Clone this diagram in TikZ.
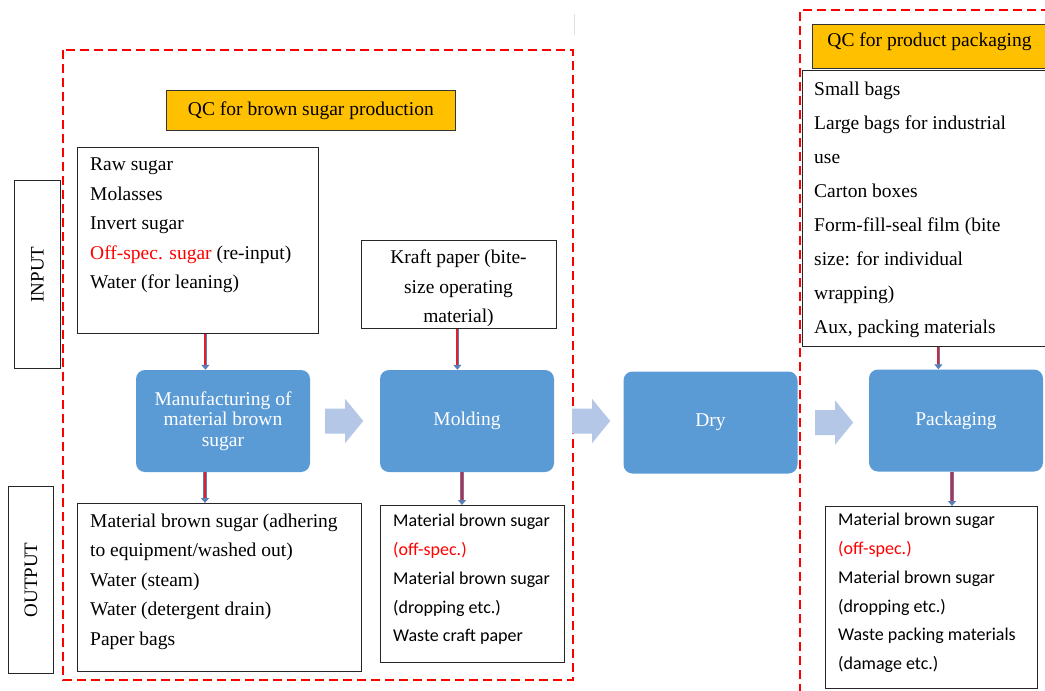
\documentclass[tikz,border=0pt]{standalone}
\usepackage{fontspec}
\setmainfont{Liberation Serif}
\newfontfamily\calibri{Carlito}
\usetikzlibrary{arrows.meta,calc}
\definecolor{procblue}{HTML}{5B9BD5}
\definecolor{qcorange}{HTML}{FFC000}
\definecolor{arrfill}{HTML}{B4C7E7}
\definecolor{arrblue}{HTML}{5A7FB8}
\definecolor{arrred}{HTML}{E0202A}
\begin{document}
\begin{tikzpicture}[x=1pt,y=-1pt,
  qcdash/.style={draw=red, line width=2pt, dash pattern=on 9pt off 5pt},
  plainbox/.style={draw=black!85, line width=0.8pt, anchor=north west, inner sep=0pt},
  qcbox/.style={draw=black!80, line width=0.8pt, fill=qcorange, anchor=north west, inner sep=0pt, font=\fontsize{19.5}{22}\selectfont},
  proc/.style={fill=procblue, rounded corners=9pt, text=white, align=center, minimum width=174pt, minimum height=102pt, inner sep=0pt, font=\fontsize{19.5}{20.5}\selectfont},
  txt/.style={anchor=north west, inner sep=0pt, align=left},
  tnr/.style={font=\fontsize{19.5}{29.5}\selectfont},
  cal/.style={font=\calibri\fontsize{18}{28.8}\selectfont},
  blockarrow/.style={fill=arrfill, draw=none},
  smallarrowout/.style={draw=arrblue, line width=3.6pt, -{Triangle[width=8pt,length=5pt]}},
  smallarrowin/.style={draw=arrred, line width=2pt, shorten >=5pt},
  sidelabel/.style={font=\fontsize{19}{20}\selectfont, rotate=90, inner sep=0pt}
]
\useasboundingbox (0,0) rectangle (1045,691);
\fill[white] (0,0) rectangle (1045,691);

% faint line at top
\draw[black!12, line width=1pt] (574,14) -- (574,35);

% dashed QC areas
\draw[qcdash] (63,50) rectangle (573,680);
\draw[qcdash] (1050,10) -- (800,10) -- (800,700);

% QC titles
\node[qcbox, minimum width=289pt, minimum height=40pt] (qc1) at (166,90) {QC for brown sugar production};
\node[qcbox, minimum width=238pt, minimum height=44pt, anchor=north west] (qc2) at (812,24) {};
\node[font=\fontsize{19.5}{22}\selectfont, inner sep=0pt] (qc2t) at (929.5,42) {QC for product packaging};

% side labels
\node[plainbox, minimum width=46pt, minimum height=188pt] (inlab) at (14,180) {};
\node[sidelabel] (inlabt) at (inlab.center) {INPUT};
\node[plainbox, minimum width=45pt, minimum height=187pt] (outlab) at (8,486) {};
\node[sidelabel] (outlabt) at (outlab.center) {OUTPUT};

% input boxes
\node[plainbox, minimum width=241pt, minimum height=186pt] (inbox) at (77,147) {};
\node[txt, tnr] (intext) at (90,158) {Raw sugar\\Molasses\\Invert sugar\\\textcolor{red}{Off-spec. sugar} (re-input)\\Water (for leaning)};

\node[plainbox, minimum width=195pt, minimum height=88pt] (kraft) at (361,240) {};
\node[tnr, anchor=north, inner sep=0pt, align=center] (krafttext) at (458.5,250) {Kraft paper (bite-\\size operating\\material)};

\node[plainbox, minimum width=248pt, minimum height=276pt] (pkgin) at (802,70) {};
\node[txt, font=\fontsize{19.5}{34.1}\selectfont] (pkgintext) at (814,81.5) {Small bags\\Large bags for industrial\\use\\Carton boxes\\Form-fill-seal film (bite\\size: for individual\\wrapping)\\Aux, packing materials};

% process boxes
\node[proc] (man) at (223,421) {Manufacturing of\\material brown\\sugar};
\node[proc] (mold) at (467,421) {Molding};
\node[proc] (dry) at (710.5,422.5) {Dry};
\node[proc] (pack) at (956,420.5) {Packaging};

% output boxes
\node[plainbox, minimum width=284pt, minimum height=168pt] (out1) at (77,503) {};
\node[txt, tnr] (out1text) at (90,513.5) {Material brown sugar (adhering\\to equipment/washed out)\\Water (steam)\\Water (detergent drain)\\Paper bags};

\node[plainbox, minimum width=184pt, minimum height=157pt] (out2) at (380,505) {};
\node[txt, cal] (out2text) at (393,514) {Material brown sugar\\\textcolor{red}{(off-spec.)}\\Material brown sugar\\(dropping etc.)\\Waste craft paper};

\node[plainbox, minimum width=212pt, minimum height=182pt] (out3) at (825,506) {};
\node[txt, cal] (out3text) at (838,513) {Material brown sugar\\\textcolor{red}{(off-spec.)}\\Material brown sugar\\(dropping etc.)\\Waste packing materials\\(damage etc.)};

% block arrows between process steps
\foreach \a/\s in {man/15, mold/18, dry/17.5}{
  \fill[blockarrow] ([xshift=\s pt]\a.east) ++(0,-12.5) -- ++(20,0) -- ++(0,-9.5) -- ++(18,22) -- ++(-18,22) -- ++(0,-9.5) -- ++(-20,0) -- cycle;
}

% small input/output arrows
\foreach \fa/\fs/\tb in {inbox/7.5/man, kraft/-1.5/mold, pkgin/12/pack, man/-18/out1, mold/-5/out2, pack/-4/out3}{
  \draw[smallarrowout] ($(\fa.south)+(\fs,0)$) -- ($(\fa.south |- \tb.north)+(\fs,0)$);
  \draw[smallarrowin] ($(\fa.south)+(\fs,0)$) -- ($(\fa.south |- \tb.north)+(\fs,0)$);
}
\end{tikzpicture}
\end{document}
